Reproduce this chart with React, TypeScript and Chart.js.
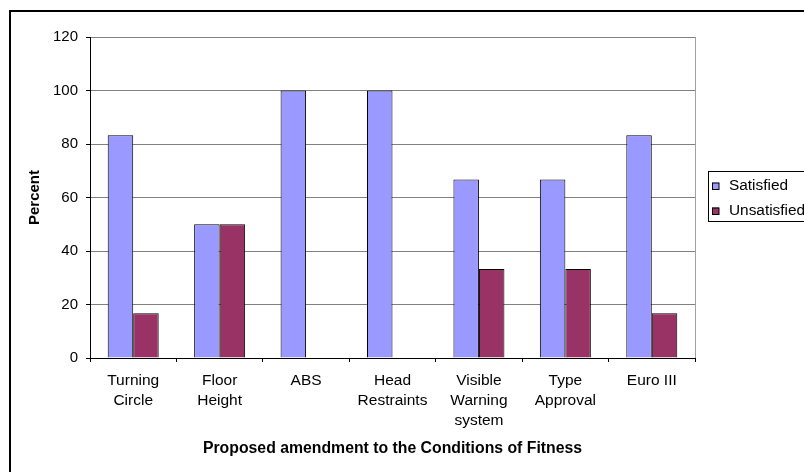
import React, { useEffect, useRef } from "react";
import { Chart, registerables } from "chart.js";

Chart.register(...registerables);

const categories: string[][] = [
  ["Turning", "Circle"],
  ["Floor", "Height"],
  ["ABS"],
  ["Head", "Restraints"],
  ["Visible", "Warning", "system"],
  ["Type", "Approval"],
  ["Euro III"],
];
const satisfied: number[] = [83.3, 50, 100, 100, 66.7, 66.7, 83.3];
const unsatisfied: number[] = [16.7, 50, 0, 0, 33.3, 33.3, 16.7];
const seriesNames: string[] = ["Satisfied", "Unsatisfied"];
const yTicks = { min: 0, max: 120, step: 20 };
const xTitle = "Proposed amendment to the Conditions of Fitness";
const yTitle = "Percent";

const FONT = "'Liberation Sans', Arial, sans-serif";

const frameAndLegend = {
  id: "frameAndLegend",
  afterDraw(chart: any) {
    const { ctx, chartArea } = chart;
    ctx.save();
    // right border of plot area
    ctx.strokeStyle = "#a0a0a0";
    ctx.lineWidth = 1;
    ctx.beginPath();
    ctx.moveTo(chartArea.right + 0.5, chartArea.top);
    ctx.lineTo(chartArea.right + 0.5, chartArea.bottom);
    ctx.stroke();

    // legend
    const lx = 708.5;
    const ly = 171.5;
    ctx.strokeStyle = "#000";
    ctx.strokeRect(lx, ly, 120, 50);
    ctx.font = `15.4px ${FONT}`;
    ctx.textBaseline = "middle";
    ctx.textAlign = "left";
    chart.data.datasets.forEach((ds: any, i: number) => {
      const cy = 186 + i * 25;
      ctx.fillStyle = ds.backgroundColor;
      ctx.fillRect(712, cy - 3.5, 7, 7);
      ctx.strokeStyle = "#000";
      ctx.strokeRect(712.5, cy - 3.5 + 0.5, 6.5, 6.5);
      ctx.fillStyle = "#000";
      ctx.fillText(ds.label, 729, cy);
    });
    ctx.restore();
  },
};

export default function App() {
  const ref = useRef<HTMLCanvasElement | null>(null);
  useEffect(() => {
    if (!ref.current) return;
    const chart = new Chart(ref.current, {
      type: "bar",
      data: {
        labels: categories,
        datasets: [
          {
            label: seriesNames[0],
            data: satisfied,
            backgroundColor: "#9999ff",
            borderColor: "#000000",
            borderWidth: 1,
          },
          {
            label: seriesNames[1],
            data: unsatisfied,
            backgroundColor: "#993366",
            borderColor: "#000000",
            borderWidth: 1,
          },
        ],
      },
      options: {
        animation: false,
        responsive: false,
        maintainAspectRatio: false,
        devicePixelRatio: 1,
        layout: { padding: { left: 0, top: 37, right: 109, bottom: 0 } },
        datasets: {
          bar: { categoryPercentage: 0.59, barPercentage: 1 },
        },
        plugins: {
          legend: { display: false },
          tooltip: { enabled: false },
          title: { display: false },
        },
        scales: {
          x: {
            afterFit: (s: any) => {
              s.height = 114;
            },
            grid: {
              display: true,
              drawOnChartArea: false,
              drawTicks: true,
              tickLength: 4,
              tickColor: "#000",
              offset: true,
            },
            border: { display: true, color: "#000", width: 1 },
            ticks: {
              color: "#000",
              padding: 9,
              maxRotation: 0,
              autoSkip: false,
              font: { family: FONT, size: 15.5, lineHeight: 20 / 15.5 },
            },
            title: {
              display: true,
              text: xTitle,
              color: "#000",
              padding: { top: 0, bottom: 14 },
              font: { family: FONT, size: 15.8, weight: "bold", lineHeight: 1.2 },
            },
          },
          y: {
            min: yTicks.min,
            max: yTicks.max,
            afterFit: (s: any) => {
              s.width = 90;
            },
            grid: {
              color: "#808080",
              tickColor: "#000",
              tickLength: 4,
              drawTicks: true,
            },
            border: { display: true, color: "#000", width: 1 },
            ticks: {
              stepSize: yTicks.step,
              color: "#000",
              padding: 8,
              font: { family: FONT, size: 15 },
            },
            title: {
              display: true,
              text: yTitle,
              color: "#000",
              padding: { top: 26, bottom: 0 },
              font: { family: FONT, size: 15, weight: "bold", lineHeight: 1.2 },
            },
          },
        },
      },
      plugins: [frameAndLegend],
    });
    return () => chart.destroy();
  }, []);

  return (
    <div
      style={{
        position: "fixed",
        left: 0,
        top: 0,
        width: 804,
        height: 472,
        overflow: "hidden",
        background: "#fff",
      }}
    >
      <div
        style={{
          position: "absolute",
          left: 9,
          top: 10,
          width: 900,
          height: 600,
          borderTop: "2px solid #000",
          borderLeft: "2px solid #000",
        }}
      />
      <canvas
        ref={ref}
        width={804}
        height={472}
        style={{ position: "absolute", left: 0, top: 0, width: 804, height: 472 }}
      />
    </div>
  );
}
